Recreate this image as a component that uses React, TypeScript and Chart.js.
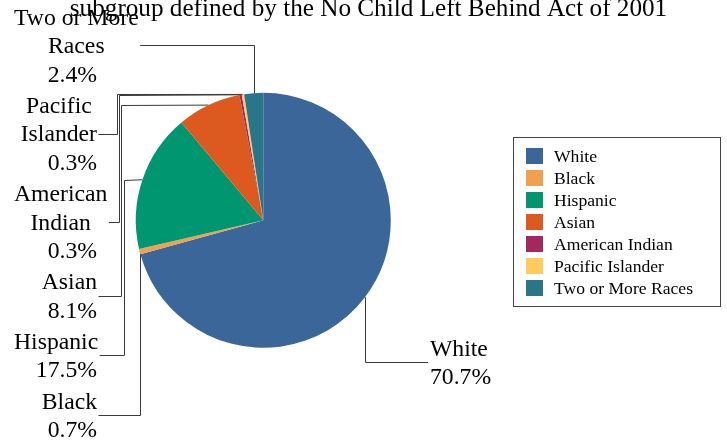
import { useEffect, useRef } from "react";
import { Chart, ArcElement, PieController } from "chart.js";

Chart.register(ArcElement, PieController);

// ---------- data ----------
const categories = [
  "White",
  "Black",
  "Hispanic",
  "Asian",
  "American Indian",
  "Pacific Islander",
  "Two or More Races",
];
const percentages = [70.7, 0.7, 17.5, 8.1, 0.3, 0.3, 2.4];
const sliceColors = [
  "#3b6699",
  "#f0a150",
  "#00966f",
  "#dc5a20",
  "#a2295f",
  "#fdcc5c",
  "#297589",
];
const titleText = "subgroup defined by the No Child Left Behind Act of 2001";

// ---------- layout / style ----------
const FONT = '"Liberation Serif", "Times New Roman", serif';
const LABEL_SIZE = 23.7;
const LINE_H = 28.3;
const BLOCK_GAP = 3.2;
const WRAP_W = 135;
const LEFT_TEXT_RIGHT = 97;
const LEFT_MIN_X = 14;
const LEFT_FIRST_BASELINE = 25;
const RIGHT_TEXT_LEFT = 430;
const RIGHT_FIRST_BASELINE = 356;
const leftOrder = [6, 5, 4, 3, 2, 1];
const rightOrder = [0];
const elbowX: (number | null)[] = [null, null, 124, 121, 118.5, 117, null];
const LEADER_COLOR = "#3a3a3a";

const TITLE_SIZE = 25.2;
const TITLE_X = 368.5;
const TITLE_BASELINE = 16;

const LEGEND_BOX = { x: 513.5, y: 137.5, w: 207, h: 169 };
const LEGEND_FONT = 17.6;
const LEGEND_SWATCH_X = 526;
const LEGEND_FIRST_TOP = 148;
const LEGEND_PITCH = 22;
const LEGEND_SWATCH_W = 17;
const LEGEND_SWATCH_H = 16;
const LEGEND_TEXT_X = 554;

type LabelInfo = {
  idx: number;
  side: "left" | "right";
  nameLines: { text: string; x: number; align: CanvasTextAlign; y: number }[];
  pct: { text: string; x: number; align: CanvasTextAlign; y: number };
  attachX: number;
  attachY: number;
  ax: number;
  ay: number;
};

function wrap(ctx: CanvasRenderingContext2D, text: string, maxW: number): string[] {
  const words = text.split(" ");
  const lines: string[] = [];
  let cur = "";
  for (const w of words) {
    const test = cur ? cur + " " + w : w;
    if (cur && ctx.measureText(test).width > maxW) {
      lines.push(cur);
      cur = w;
    } else cur = test;
  }
  if (cur) lines.push(cur);
  return lines;
}

function computeLabels(chart: any): LabelInfo[] {
  const ctx: CanvasRenderingContext2D = chart.ctx;
  const meta = chart.getDatasetMeta(0);
  ctx.save();
  ctx.font = `${LABEL_SIZE}px ${FONT}`;
  const out: LabelInfo[] = [];
  const anchor = (i: number) => {
    const arc = meta.data[i];
    const p = arc.getProps(["x", "y", "startAngle", "endAngle", "outerRadius"], true);
    const mid = (p.startAngle + p.endAngle) / 2;
    return { ax: p.x + Math.cos(mid) * p.outerRadius, ay: p.y + Math.sin(mid) * p.outerRadius };
  };
  const pctText = (i: number) => percentages[i].toFixed(1) + "%";

  let base = LEFT_FIRST_BASELINE;
  for (const i of leftOrder) {
    const names = wrap(ctx, categories[i], WRAP_W);
    const w = Math.max(...names.map((n) => ctx.measureText(n).width));
    const left = Math.max(LEFT_MIN_X, LEFT_TEXT_RIGHT - w);
    const right = left + w;
    const cx = (left + right) / 2;
    const b0 = base;
    const nameLines = names.map((t, k) => ({ text: t, x: cx, align: "center" as CanvasTextAlign, y: b0 + k * LINE_H }));
    const pctY = b0 + names.length * LINE_H;
    const pct = { text: pctText(i), x: LEFT_TEXT_RIGHT, align: "right" as CanvasTextAlign, y: pctY };
    const attachY = (b0 + pctY) / 2 - 0.33 * LABEL_SIZE;
    out.push({ idx: i, side: "left", nameLines, pct, attachX: right + 1.5, attachY, ...anchor(i) });
    base = pctY + LINE_H + BLOCK_GAP;
  }
  base = RIGHT_FIRST_BASELINE;
  for (const i of rightOrder) {
    const names = wrap(ctx, categories[i], WRAP_W);
    const b0 = base;
    const nameLines = names.map((t, k) => ({ text: t, x: RIGHT_TEXT_LEFT, align: "left" as CanvasTextAlign, y: b0 + k * LINE_H }));
    const pctY = b0 + names.length * LINE_H;
    const pct = { text: pctText(i), x: RIGHT_TEXT_LEFT, align: "left" as CanvasTextAlign, y: pctY };
    const attachY = (b0 + pctY) / 2 - 0.33 * LABEL_SIZE;
    out.push({ idx: i, side: "right", nameLines, pct, attachX: RIGHT_TEXT_LEFT - 2, attachY, ...anchor(i) });
    base = pctY + LINE_H + BLOCK_GAP;
  }
  ctx.restore();
  return out;
}

const px = (v: number) => Math.round(v) + 0.5;

const pieDecorations = {
  id: "pieDecorations",
  beforeDatasetsDraw(chart: any) {
    const ctx: CanvasRenderingContext2D = chart.ctx;
    const labels = computeLabels(chart);
    ctx.save();
    ctx.strokeStyle = LEADER_COLOR;
    ctx.lineWidth = 1;
    for (const l of labels) {
      const ex = elbowX[l.idx];
      ctx.beginPath();
      ctx.moveTo(l.ax, l.ay);
      if (ex === null) {
        ctx.lineTo(px(l.ax), px(l.ay));
        ctx.lineTo(px(l.ax), px(l.attachY));
      } else {
        ctx.lineTo(px(ex), px(l.ay));
        ctx.lineTo(px(ex), px(l.attachY));
      }
      ctx.lineTo(l.attachX, px(l.attachY));
      ctx.stroke();
    }
    ctx.restore();
  },
  afterDraw(chart: any) {
    const ctx: CanvasRenderingContext2D = chart.ctx;
    const labels = computeLabels(chart);
    ctx.save();
    ctx.fillStyle = "#000";
    ctx.textBaseline = "alphabetic";
    // title
    ctx.font = `${TITLE_SIZE}px ${FONT}`;
    ctx.textAlign = "center";
    ctx.fillText(titleText, TITLE_X, TITLE_BASELINE);
    // labels
    ctx.font = `${LABEL_SIZE}px ${FONT}`;
    for (const l of labels) {
      for (const n of [...l.nameLines, l.pct]) {
        ctx.textAlign = n.align;
        ctx.fillText(n.text, n.x, n.y);
      }
    }
    // legend
    ctx.strokeStyle = "#444";
    ctx.lineWidth = 1;
    ctx.strokeRect(LEGEND_BOX.x, LEGEND_BOX.y, LEGEND_BOX.w, LEGEND_BOX.h);
    ctx.font = `${LEGEND_FONT}px ${FONT}`;
    ctx.textAlign = "left";
    const colors = chart.data.datasets[0].backgroundColor as string[];
    (chart.data.labels as string[]).forEach((name, i) => {
      const top = LEGEND_FIRST_TOP + i * LEGEND_PITCH;
      ctx.fillStyle = colors[i];
      ctx.fillRect(LEGEND_SWATCH_X, top, LEGEND_SWATCH_W, LEGEND_SWATCH_H);
      ctx.fillStyle = "#000";
      ctx.fillText(name, LEGEND_TEXT_X, top + 13.5);
    });
    ctx.restore();
  },
};

export default function App() {
  const ref = useRef<HTMLCanvasElement>(null);
  useEffect(() => {
    if (!ref.current) return;
    const chart = new Chart(ref.current, {
      type: "pie",
      data: {
        labels: categories,
        datasets: [
          {
            data: percentages,
            backgroundColor: sliceColors,
            borderWidth: 0,
          },
        ],
      },
      options: {
        responsive: false,
        animation: false,
        events: [],
        layout: { padding: { left: 135.8, right: 336.2, top: 92.8, bottom: 96.2 } },
        plugins: {
          legend: { display: false },
          tooltip: { enabled: false },
          title: { display: false },
        },
      },
      plugins: [pieDecorations],
    });
    return () => chart.destroy();
  }, []);
  return (
    <div style={{ position: "fixed", left: 0, top: 0, width: 727, height: 444, background: "#fff" }}>
      <canvas ref={ref} width={727} height={444} style={{ display: "block", width: 727, height: 444 }} />
    </div>
  );
}
